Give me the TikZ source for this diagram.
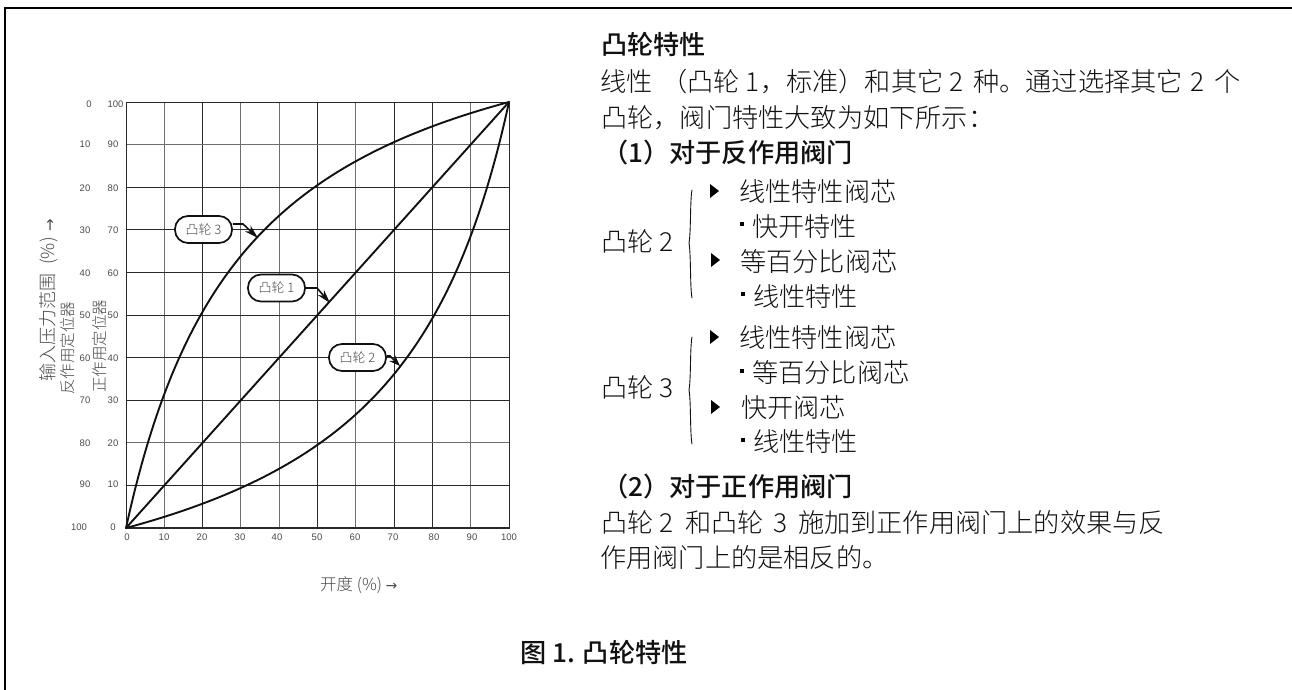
\documentclass[tikz,border=0pt]{standalone}
\usepackage{fontspec}
\usetikzlibrary{arrows.meta}
\setmainfont[BoldFont={Noto Sans CJK SC Medium}]{Noto Sans CJK SC Light}
\newfontfamily\numfont{Liberation Sans}
\newfontfamily\arrfont{DejaVu Sans}
\definecolor{ink}{HTML}{111111}
\definecolor{gridd}{HTML}{2A2A2A}
\definecolor{gridl}{HTML}{6E6E6E}
\definecolor{lab}{HTML}{4A4A4A}
\tikzset{
  body/.style={anchor=base west,inner sep=0pt,yshift=-9.6pt,text=ink,font=\fontsize{26.2}{26.2}\selectfont},
  head/.style={body,font=\fontsize{26.2}{26.2}\selectfont\bfseries},
  tri/.style={fill=black,draw=none},
  dot/.style={fill=black,draw=none},
  brace/.style={draw=ink,line width=0.9pt,line cap=round},
  curveline/.style={draw=ink,line width=1.9pt,line cap=round,line join=round},
  tick/.style={inner sep=0pt,text=lab,font=\numfont\fontsize{9.5}{9.5}\selectfont},
  vlab/.style={inner sep=0pt,text=lab,rotate=90},
  cam/.style={draw=ink,line width=1.7pt,fill=white,rounded corners=13pt,minimum width=57pt,minimum height=27pt,inner sep=0pt,text=lab,font=\fontsize{13}{13}\selectfont},
  lead/.style={draw=ink,line width=1.6pt,-{Stealth[length=14pt,width=8pt]}}
}
\begin{document}
\begin{tikzpicture}[x=1pt,y=-1pt]
\useasboundingbox (0,0) rectangle (1292,690);
\fill[white] (0,0) rectangle (1292,690);
\draw[black,line width=2pt] (5,690) -- (5,8) -- (1292,8);
% grid
\begin{scope}[shift={(126,528)},x=3.83pt,y=4.26pt]
\foreach \v/\c in {10/gridl,20/gridd,30/gridl,40/gridl,50/gridd,60/gridl,70/gridd,80/gridd,90/gridl}
  \draw[\c,line width=1pt] (\v,0) -- (\v,100);
\foreach \v/\c in {10/gridd,20/gridl,30/gridd,40/gridd,50/gridd,60/gridd,70/gridd,80/gridd,90/gridl}
  \draw[\c,line width=1pt] (0,\v) -- (100,\v);
\draw[gridd,line width=1pt] (0,0) rectangle (100,100);
\draw[gridd,line width=1.6pt] (0,0) -- (100,0);
\draw[curveline] (0,0) -- (100,100);
\draw[curveline] plot[domain=0:100,samples=120,smooth] ({\x},{132*\x/(\x+32)});
\draw[curveline] plot[domain=0:100,samples=120,smooth] ({100-\x},{100-132*\x/(\x+32)});
\end{scope}
% y ticks
\foreach \a/\b/\y/\n in {10/90/144.5/1,20/80/188/2,30/70/230/3,40/60/273/4,50/50/315/5,60/40/358/6,70/30/400/7,80/20/443/8,90/10/484/9}{
  \node[tick] (ya\n) at (85,\y) {\a};
  \node[tick] (yb\n) at (113,\y) {\b};
}
\node[tick] (ya0) at (89,104) {0};
\node[tick] (yb0) at (115.5,104) {100};
\node[tick] (ya10) at (79,527) {100};
\node[tick] (yb10) at (113,527) {0};
% x ticks
\foreach \v/\x in {0/127,10/164,20/202,30/240,40/277,50/317,60/355,70/393,80/434,90/472,100/509}
  \node[tick] (x\v) at (\x,537) {\v};
\node[inner sep=0pt,anchor=west,text=lab,font=\fontsize{16.5}{16.5}\selectfont] (xlab) at (320,585) {开度 (\%) {\arrfont\fontsize{14}{14}\selectfont →}};
% side labels
\node[vlab,font=\fontsize{18}{18}\selectfont,anchor=west] (s1) at (49,382) {输入压力范围\hspace{9pt}(\%)\hspace{6pt}{\arrfont\fontsize{15}{15}\selectfont →}};
\node[vlab,font=\fontsize{15.5}{15.5}\selectfont,anchor=west] (s2) at (68,395) {反作用定位器};
\node[vlab,font=\fontsize{15.5}{15.5}\selectfont,anchor=west] (s3) at (100,393) {正作用定位器};
% callouts
\node[cam] (c3) at (203.5,229.5) {凸轮 3};
\node[cam] (c1) at (276.5,288) {凸轮 1};
\node[cam] (c2) at (357.5,357.5) {凸轮 2};
\coordinate (b3) at (243,224); \coordinate (t3) at (258,238);
\coordinate (b1) at (317,288); \coordinate (t1) at (330,303);
\coordinate (b2) at (390,356); \coordinate (t2) at (400,366);
\draw[lead] (c3.east |- b3) -- (b3) -- (t3);
\draw[lead] (c1.east) -- (b1) -- (t1);
\draw[lead,-{Stealth[length=11pt,width=8pt]}] (c2.east |- b2) -- (b2) -- (t2);
% right text
\node[head] (t0) at (601,45) {凸轮特性};
\node[body] (l1) at (600,82) {线性\hspace{9pt}（凸轮 1，标准）和其它 2\hspace{10pt}种。通过选择其它\hspace{8pt}2\hspace{10pt}个};
\node[body] (l2) at (601,118) {凸轮，阀门特性大致为如下所示：};
\node[head] (h1) at (602,153) {（1）对于反作用阀门};
\node[body] (k2) at (601,242) {凸轮 2};
\draw[brace] (692,190) .. controls (690,200) and (691,232) .. (689,243) .. controls (691,254) and (690,288) .. (692,298);
\node[body] (a1) at (739,192) {线性特性阀芯};
\node[body] (a2) at (752,227) {快开特性};
\node[body] (a3) at (740,262) {等百分比阀芯};
\node[body] (a4) at (753,297) {线性特性};
\fill[tri] (710,184) -- (719,191) -- (710,198) -- cycle;
\fill[tri] (711,253) -- (720,260) -- (711,267) -- cycle;
\fill[dot] (740,222) rectangle (744,226);
\fill[dot] (741,292) rectangle (745,296);
\node[body] (k3) at (601,388) {凸轮 3};
\draw[brace] (692,337) .. controls (690,347) and (691,379) .. (689,390) .. controls (691,401) and (690,434) .. (692,444);
\node[body] (b1t) at (739,338) {线性特性阀芯};
\node[body] (b2t) at (752,373) {等百分比阀芯};
\node[body] (b3t) at (741,408) {快开阀芯};
\node[body] (b4t) at (753,442) {线性特性};
\fill[tri] (710,330) -- (719,337) -- (710,344) -- cycle;
\fill[tri] (711,400) -- (720,407) -- (711,414) -- cycle;
\fill[dot] (740,369) rectangle (744,373);
\fill[dot] (741,438) rectangle (745,442);
\node[head] (h2) at (602,487) {（2）对于正作用阀门};
\node[body] (l3) at (601,523) {凸轮 2\hspace{12pt}和凸轮\hspace{9pt}3\hspace{11pt}施加到正作用阀门上的效果与反};
\node[body] (l4) at (600,558) {作用阀门上的是相反的。};
\node[head] (cap) at (520,653) {图 1. 凸轮特性};
\end{tikzpicture}
\end{document}
